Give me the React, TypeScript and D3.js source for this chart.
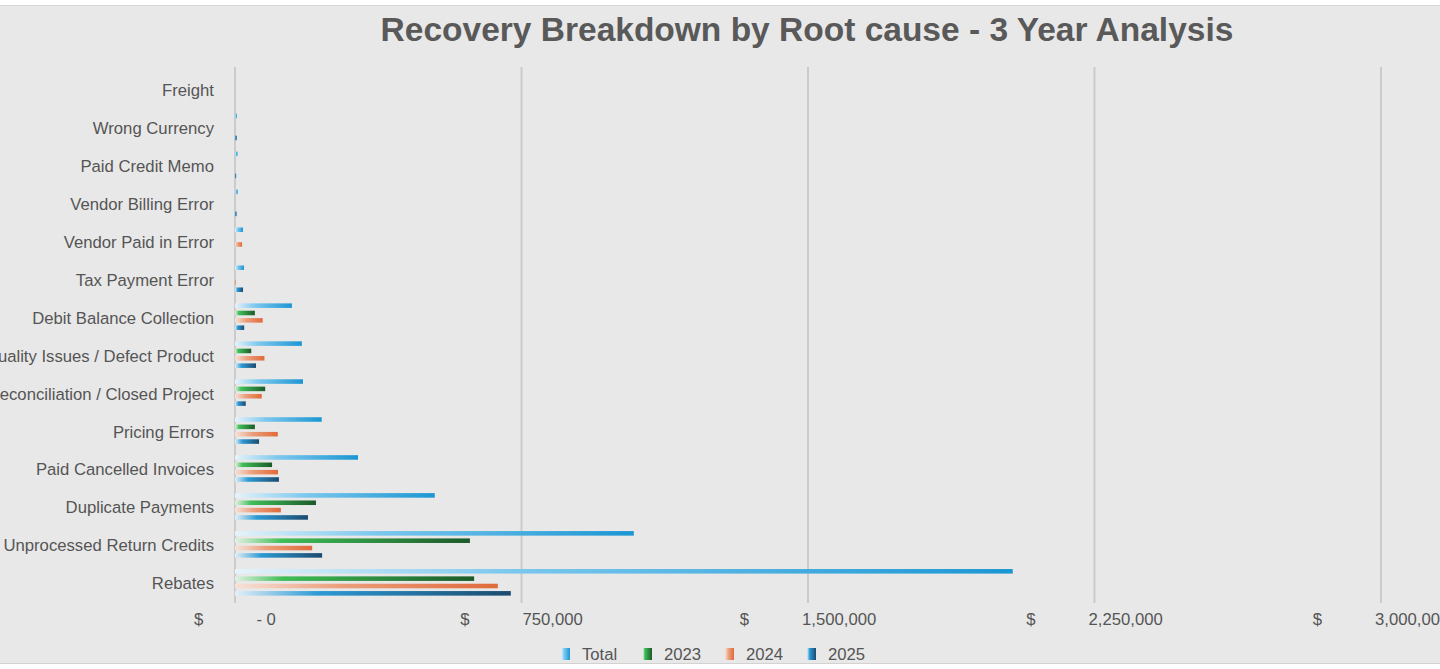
import React from "react";
import * as d3 from "d3";

const categories = [
  "Freight",
  "Wrong Currency",
  "Paid Credit Memo",
  "Vendor Billing Error",
  "Vendor Paid in Error",
  "Tax Payment Error",
  "Debit Balance Collection",
  "Quality Issues / Defect Product",
  "Reconciliation / Closed Project",
  "Pricing Errors",
  "Paid Cancelled Invoices",
  "Duplicate Payments",
  "Unprocessed Return Credits",
  "Rebates",
];

const seriesNames = ["Total", "2023", "2024", "2025"];

const totalValues = [0, 5000, 6500, 7000, 21000, 23500, 149000, 175000, 178000, 227000, 322000, 523000, 1044000, 2036000];
const y2023Values = [0, 0, 0, 0, 0, 0, 52000, 42500, 79000, 52000, 97000, 212000, 615000, 626000];
const y2024Values = [0, 0, 0, 0, 18500, 2000, 72500, 77000, 70000, 112000, 112500, 120000, 202000, 688000];
const y2025Values = [0, 4500, 3000, 4000, 0, 21000, 24000, 55000, 28000, 63000, 115000, 191000, 228000, 722000];

const tickValues = [0, 750000, 1500000, 2250000, 3000000];
const tickLabels = ["- 0", "750,000", "1,500,000", "2,250,000", "3,000,000"];

const title = "Recovery Breakdown by Root cause - 3 Year Analysis";

const seriesValues = [totalValues, y2023Values, y2024Values, y2025Values];

const gradients = [
  { id: "g-total", stops: [["0%", "#e6f3fa"], ["35%", "#7cc8ee"], ["100%", "#1a96d3"]] },
  { id: "g-2023", stops: [["0%", "#e3f1e3"], ["20%", "#3fbe57"], ["100%", "#1c5a29"]] },
  { id: "g-2024", stops: [["0%", "#f6e2d8"], ["40%", "#eb9f7c"], ["100%", "#e06a3a"]] },
  { id: "g-2025", stops: [["0%", "#e3eff7"], ["30%", "#2c9ad5"], ["100%", "#1b4b6e"]] },
];

const FONT = "'Liberation Sans', Arial, Helvetica, sans-serif";
const TEXT = "#555555";

export default function App() {
  const W = 1440;
  const H = 669;
  const x = d3.scaleLinear().domain([0, 3000000]).range([235, 1381]);
  const y = d3.scaleBand<string>().domain(categories).range([70, 601.3]).paddingInner(0).paddingOuter(0);
  const sub = d3.scaleBand<string>().domain(seriesNames).range([-13.3, 13.3]).paddingInner(0.38).paddingOuter(0);

  return (
    <div style={{ position: "fixed", left: 0, top: 0, width: W, height: H, background: "#fff" }}>
      <svg width={W} height={H} style={{ display: "block", fontFamily: FONT }}>
        <defs>
          {gradients.map((g) => (
            <linearGradient key={g.id} id={g.id} x1="0" x2="1" y1="0" y2="0">
              {g.stops.map(([o, c]) => (
                <stop key={o} offset={o} stopColor={c} />
              ))}
            </linearGradient>
          ))}
        </defs>
        <rect x={0} y={0} width={W} height={H} fill="#ffffff" />
        <rect x={0} y={5} width={W} height={659} fill="#e8e8e8" />
        <line x1={0} x2={W} y1={5.5} y2={5.5} stroke="#d6d6d6" strokeWidth={1} />
        <line x1={0} x2={W} y1={663.5} y2={663.5} stroke="#d2d2d2" strokeWidth={1} />

        <text x={807} y={29} textAnchor="middle" dominantBaseline="central" fontSize={33.5} fontWeight="bold" fill="#595959">
          {title}
        </text>

        {tickValues.map((t) => (
          <line key={"g" + t} x1={x(t)} x2={x(t)} y1={67} y2={603} stroke="#cbcbcb" strokeWidth={2} />
        ))}

        {categories.map((c, i) => (
          <g key={c}>
            {seriesNames.map((s, j) => {
              const v = seriesValues[j][i];
              const w = x(v) - x(0);
              if (w <= 0) return null;
              const yc = (y(c) as number) + y.bandwidth() / 2;
              return (
                <rect
                  key={s}
                  x={x(0)}
                  y={yc + (sub(s) as number)}
                  width={w}
                  height={sub.bandwidth()}
                  fill={`url(#${gradients[j].id})`}
                />
              );
            })}
            <text
              x={214}
              y={(y(c) as number) + y.bandwidth() / 2 + 1.5}
              textAnchor="end"
              dominantBaseline="central"
              fontSize={16.7}
              fill={TEXT}
            >
              {c}
            </text>
          </g>
        ))}

        {tickValues.map((t, i) => (
          <text key={"t" + t} x={x(t)} y={619} textAnchor="middle" dominantBaseline="central" fontSize={16.7} fill={TEXT}>
            <tspan>$</tspan>
            <tspan dx={53}>{tickLabels[i]}</tspan>
          </text>
        ))}

        {seriesNames.map((s, j) => {
          const lx = 561 + j * 82;
          return (
            <g key={"l" + s}>
              <rect x={lx} y={648} width={9} height={12} fill={`url(#${gradients[j].id})`} />
              <text x={lx + 21} y={654.5} dominantBaseline="central" fontSize={16.7} fill={TEXT}>
                {s}
              </text>
            </g>
          );
        })}
      </svg>
    </div>
  );
}
